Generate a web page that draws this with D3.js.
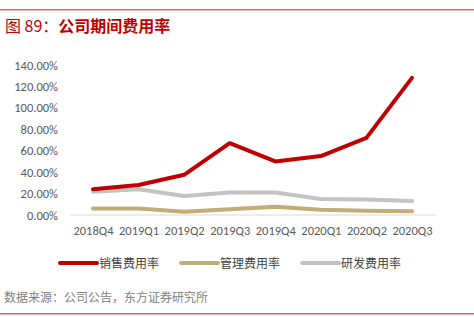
<!DOCTYPE html>
<html>
<head>
<meta charset="utf-8">
<script src="https://cdn.jsdelivr.net/npm/d3@7"></script>
<style>
  body { margin: 0; background: #fff; }
  text { font-family: "Noto Sans CJK SC", "Noto Sans", sans-serif; }
</style>
</head>
<body>
<script>
const quarters = ["2018Q4", "2019Q1", "2019Q2", "2019Q3", "2019Q4", "2020Q1", "2020Q2", "2020Q3"];
const salesRate = [24, 28, 37.5, 67, 50, 55, 72, 128];
const adminRate = [6, 6, 3, 5.3, 7.7, 5, 4, 3.5];
const rdRate = [21.8, 24, 17.7, 21, 21, 15, 14.5, 13];
const yTicks = [0, 20, 40, 60, 80, 100, 120, 140];

const series = [
    {name: "销售费用率", values: salesRate, color: "#c00000"},
    {name: "管理费用率", values: adminRate, color: "#c2ad78"},
    {name: "研发费用率", values: rdRate, color: "#c3c3c3"}
];

const W = 474, H = 317;
const svg = d3.select("body").append("svg")
    .attr("width", W)
    .attr("height", H);

// frame lines + title
svg.append("rect").attr("x", 0).attr("y", 9).attr("width", W).attr("height", 1.5).attr("fill", "#d66a6a");
svg.append("rect").attr("x", 0).attr("y", 313).attr("width", W).attr("height", 1.5).attr("fill", "#d66a6a");
const title = svg.append("text")
    .attr("x", 5).attr("y", 32)
    .attr("fill", "#c00000")
    .attr("font-size", 16);
title.append("tspan").text("图 89：");
title.append("tspan").attr("font-weight", "bold").text("公司期间费用率");

const x = d3.scalePoint()
    .domain(quarters)
    .range([93, 412]);

const y = d3.scaleLinear()
    .domain([0, 140])
    .range([215, 65]);

const axisFont = "Calibri, Carlito, 'Liberation Sans', sans-serif";

// y axis labels
const yAxis = d3.axisLeft(y)
    .tickValues(yTicks)
    .tickFormat(d => d.toFixed(2) + "%")
    .tickSize(0)
    .tickPadding(4);

const yAxisGroup = svg.append("g")
    .attr("transform", "translate(62,0)")
    .call(yAxis);
yAxisGroup.select(".domain").remove();
yAxisGroup.selectAll("text")
    .attr("fill", "#595959")
    .attr("font-size", 12.5)
    .style("font-family", axisFont);

// x axis
const xAxis = d3.axisBottom(x).tickSize(0).tickPadding(11);
const xAxisGroup = svg.append("g")
    .attr("transform", "translate(0,215)")
    .call(xAxis);
xAxisGroup.select(".domain").remove();
xAxisGroup.selectAll("text")
    .attr("fill", "#595959")
    .attr("font-size", 12.5)
    .style("font-family", axisFont);
svg.append("line")
    .attr("x1", 70).attr("x2", 436)
    .attr("y1", y(0)).attr("y2", y(0))
    .attr("stroke", "#d9d9d9").attr("stroke-width", 1);

const line = d3.line()
    .x((d, i) => x(quarters[i]))
    .y(d => y(d));

// draw back to front: gray, tan, red
[series[2], series[1], series[0]].forEach(s => {
    svg.append("path")
        .datum(s.values)
        .attr("d", line)
        .attr("fill", "none")
        .attr("stroke", s.color)
        .attr("stroke-width", 4)
        .attr("stroke-linejoin", "round")
        .attr("stroke-linecap", "round");
});

// legend
const legendX = [60, 181, 302];
const legend = svg.append("g").selectAll("g")
    .data(series)
    .enter()
    .append("g")
    .attr("transform", (d, i) => `translate(${legendX[i]},263)`);
legend.append("line")
    .attr("x1", 0).attr("x2", 37)
    .attr("stroke", d => d.color)
    .attr("stroke-width", 4)
    .attr("stroke-linecap", "round");
legend.append("text")
    .attr("x", 39).attr("y", 5)
    .attr("fill", "#404040")
    .attr("font-size", 12)
    .text(d => d.name);

svg.append("text")
    .attr("x", 4).attr("y", 302)
    .attr("fill", "#7f7f7f")
    .attr("font-size", 12)
    .text("数据来源：公司公告，东方证券研究所");
</script>
</body>
</html>
